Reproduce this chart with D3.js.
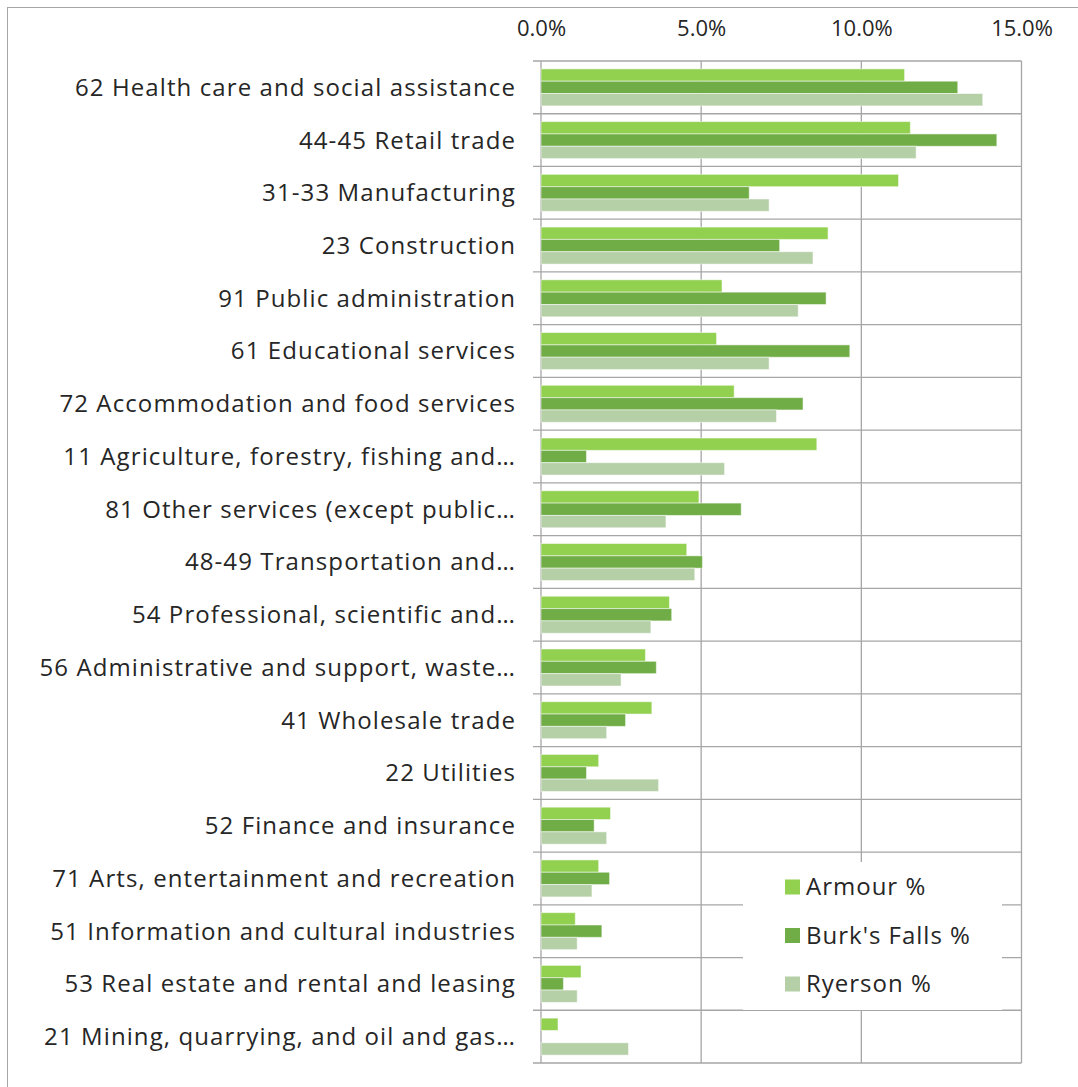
<!DOCTYPE html>
<html lang="en">
<head>
<meta charset="utf-8">
<title>Industry share</title>
<script src="https://cdn.jsdelivr.net/npm/d3@7"></script>
<style>
  body { margin: 0; background: #fff; }
  text { font-family: "Open Sans", Lato, sans-serif; fill: #262626; }
</style>
</head>
<body>
<div id="chart"></div>
<script>
// categories, top to bottom
var categories = [
  "62 Health care and social assistance",
  "44-45 Retail trade",
  "31-33 Manufacturing",
  "23 Construction",
  "91 Public administration",
  "61 Educational services",
  "72 Accommodation and food services",
  "11 Agriculture, forestry, fishing and\u2026",
  "81 Other services (except public\u2026",
  "48-49 Transportation and\u2026",
  "54 Professional, scientific and\u2026",
  "56 Administrative and support, waste\u2026",
  "41 Wholesale trade",
  "22 Utilities",
  "52 Finance and insurance",
  "71 Arts, entertainment and recreation",
  "51 Information and cultural industries",
  "53 Real estate and rental and leasing",
  "21 Mining, quarrying, and oil and gas\u2026"
];

var seriesNames = ["Armour %", "Burk's Falls %", "Ryerson %"];
var seriesColors = ["#92d050", "#70ad47", "#b5cfa7"];

// values in percent
var armour    = [11.35, 11.53, 11.16, 8.96, 5.65, 5.48, 6.03, 8.61, 4.93, 4.55, 4.01, 3.26, 3.46, 1.80, 2.17, 1.80, 1.07, 1.25, 0.53];
var burksFalls = [13.01, 14.23, 6.50, 7.45, 8.90, 9.64, 8.18, 1.42, 6.25, 5.04, 4.08, 3.60, 2.64, 1.42, 1.66, 2.14, 1.90, 0.70, 0.00];
var ryerson   = [13.79, 11.71, 7.12, 8.49, 8.03, 7.12, 7.35, 5.73, 3.90, 4.80, 3.43, 2.50, 2.05, 3.67, 2.05, 1.59, 1.13, 1.13, 2.73];

var xTicks = [0, 5, 10, 15];

var allSeries = [armour, burksFalls, ryerson];

var width = 1078, height = 1087;
var plotLeft = 541, plotRight = 1021.5, plotTop = 61, plotBottom = 1063;

var svg = d3.select("#chart")
  .append("svg")
  .attr("width", width)
  .attr("height", height);

// outer chart border
svg.append("rect")
  .attr("x", 7.5)
  .attr("y", 7.5)
  .attr("width", 1200)
  .attr("height", 1200)
  .attr("fill", "none")
  .attr("stroke", "#a6a6a6")
  .attr("stroke-width", 1);

var x = d3.scaleLinear()
  .domain([0, 15])
  .range([plotLeft, plotRight]);

var y = d3.scaleBand()
  .domain(categories)
  .range([plotTop, plotBottom]);

var pad = (y.bandwidth() - 37) / 2;
var y1 = d3.scaleBand()
  .domain(seriesNames)
  .range([pad, y.bandwidth() - pad]);

var grid = svg.append("g");

// vertical gridlines
grid.selectAll("line.v")
  .data(xTicks)
  .enter()
  .append("line")
  .attr("x1", function(d) { return x(d); })
  .attr("x2", function(d) { return x(d); })
  .attr("y1", plotTop)
  .attr("y2", plotBottom)
  .attr("stroke", "#a6a6a6")
  .attr("stroke-width", 1.3);

// horizontal lines at category boundaries (with small tick to the left)
var bounds = categories.map(function(c) { return y(c); }).concat([plotBottom]);
grid.selectAll("line.h")
  .data(bounds)
  .enter()
  .append("line")
  .attr("x1", plotLeft - 8)
  .attr("x2", plotRight)
  .attr("y1", function(d) { return d; })
  .attr("y2", function(d) { return d; })
  .attr("stroke", "#a6a6a6")
  .attr("stroke-width", 1.3);

// top axis labels
var xAxis = d3.axisTop(x)
  .tickValues(xTicks)
  .tickSize(0)
  .tickPadding(0)
  .tickFormat(function(d) { return d3.format(".1f")(d) + "%"; });

var axisG = svg.append("g")
  .attr("transform", "translate(0,36)")
  .call(xAxis);
axisG.select(".domain").remove();
axisG.selectAll("text")
  .attr("font-size", 22)
  .attr("font-family", "'Open Sans', sans-serif")
  .attr("fill", "#262626")
  .attr("dy", 0);

// category labels
svg.append("g")
  .selectAll("text")
  .data(categories)
  .enter()
  .append("text")
  .attr("x", 516)
  .attr("y", function(d) { return y(d) + y.bandwidth() / 2; })
  .attr("dy", "0.35em")
  .attr("text-anchor", "end")
  .attr("font-size", 24)
  .attr("letter-spacing", 1.1)
  .text(function(d) { return d; });

// bars
var rows = [];
categories.forEach(function(c, i) {
  seriesNames.forEach(function(s, j) {
    rows.push({cat: c, series: s, color: seriesColors[j], value: allSeries[j][i]});
  });
});

svg.append("g")
  .selectAll("rect")
  .data(rows)
  .enter()
  .append("rect")
  .attr("x", x(0))
  .attr("y", function(d) { return y(d.cat) + y1(d.series); })
  .attr("width", function(d) { return x(d.value) - x(0); })
  .attr("height", y1.bandwidth())
  .attr("fill", function(d) { return d.color; })
  .attr("stroke", function(d) { return d.value > 0 ? "rgba(255,255,255,0.5)" : "none"; })
  .attr("stroke-width", 1);

// legend
var legend = svg.append("g");
legend.append("rect")
  .attr("x", 743)
  .attr("y", 862)
  .attr("width", 259)
  .attr("height", 148)
  .attr("fill", "#fff");

var items = legend.selectAll("g.item")
  .data(seriesNames)
  .enter()
  .append("g")
  .attr("transform", function(d, i) { return "translate(785," + (887 + i * 48.5) + ")"; });

items.append("rect")
  .attr("x", 0)
  .attr("y", -7.5)
  .attr("width", 15)
  .attr("height", 15)
  .attr("fill", function(d, i) { return seriesColors[i]; });

items.append("text")
  .attr("x", 21)
  .attr("y", 0)
  .attr("dy", "0.35em")
  .attr("font-size", 24)
  .attr("letter-spacing", 1.0)
  .text(function(d) { return d; });
</script>
</body>
</html>
